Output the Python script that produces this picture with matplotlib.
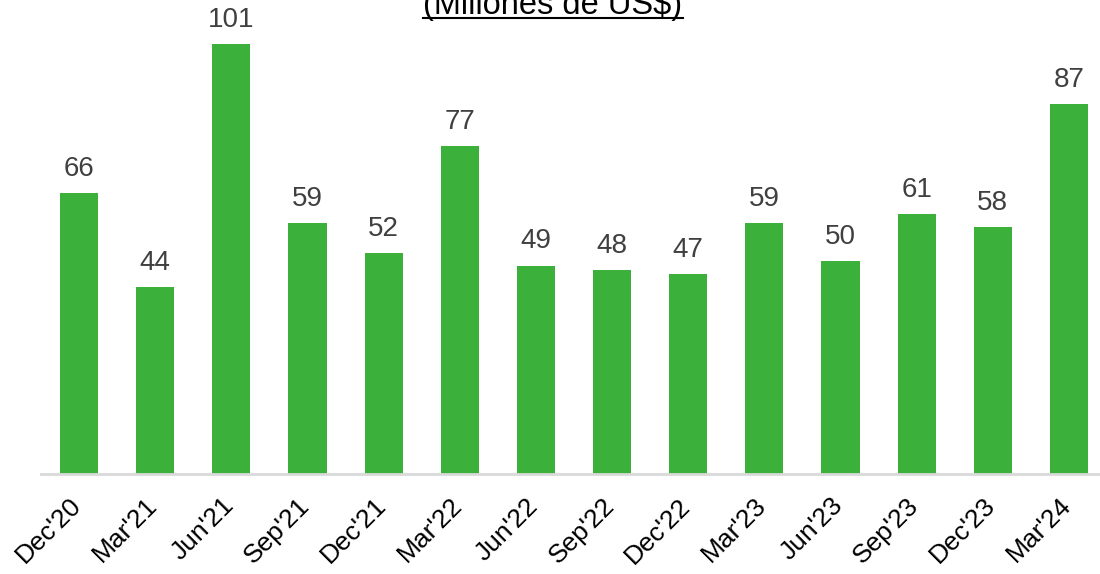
import numpy as np
import matplotlib
matplotlib.use('Agg')
import matplotlib.pyplot as plt
from matplotlib.lines import Line2D
from matplotlib.transforms import ScaledTranslation

plt.rcParams['font.family'] = ['Liberation Sans', 'DejaVu Sans']

quarters = ["Dec'20", "Mar'21", "Jun'21", "Sep'21", "Dec'21", "Mar'22", "Jun'22",
            "Sep'22", "Dec'22", "Mar'23", "Jun'23", "Sep'23", "Dec'23", "Mar'24"]
values = [66, 44, 101, 59, 52, 77, 49, 48, 47, 59, 50, 61, 58, 87]
title = "(Millones de US$)"

W, H = 1100, 574
fig = plt.figure(figsize=(W/100, H/100), dpi=100)
# axes placed in pixel terms: baseline at y=474, left edge x=41
ax = fig.add_axes([41/W, 100/H, 1066/W, 468/H])

x = np.arange(len(values))
ax.bar(x, values, width=0.5, color='#3BB03B')
for xi, v in zip(x, values):
    ax.annotate(str(v), (xi, v), xytext=(0, 8), textcoords='offset points',
                ha='center', va='bottom', fontsize=20, color='#404040')

ax.set_xlim(-0.5, len(values) - 0.5)
ax.set_ylim(0, 110)
ax.set_yticks([])
for s in ['top', 'right', 'left']:
    ax.spines[s].set_visible(False)
ax.spines['bottom'].set_color('#d9d9d9')
ax.spines['bottom'].set_linewidth(2)
ax.set_xticks(x)
ax.set_xticklabels(quarters, rotation=45, ha='right', rotation_mode='anchor',
                   fontsize=19, color='black')
ax.tick_params(axis='x', length=0, pad=14)
shift = ScaledTranslation(-10/100, 0, fig.dpi_scale_trans)
for lab in ax.get_xticklabels():
    lab.set_transform(lab.get_transform() + shift)

t = fig.text(553/W, 1 - 14/H, title, ha='center', va='baseline', fontsize=23.5, color='black')
fig.canvas.draw()
bb = t.get_window_extent()
yl = 1 - 17.5/H
fig.add_artist(Line2D([bb.x0/W, bb.x1/W], [yl, yl], color='black', lw=1.5,
                      transform=fig.transFigure))

fig.savefig('out.png', dpi=100)
